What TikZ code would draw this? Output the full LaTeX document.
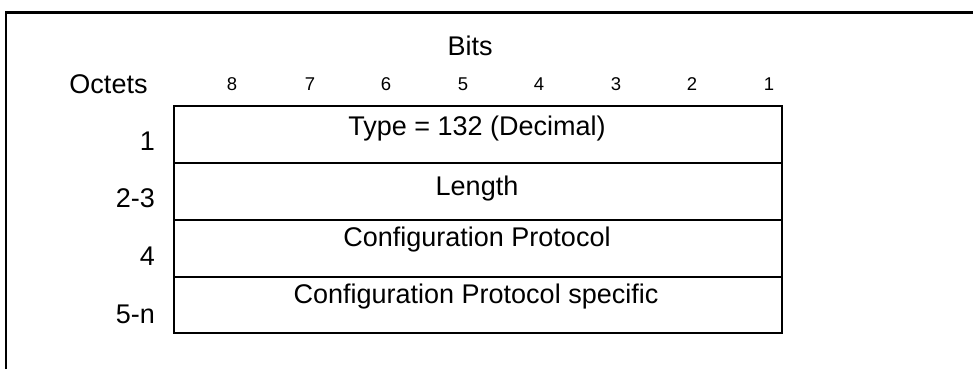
\documentclass[tikz,border=0pt]{standalone}
\usepackage{fontspec}
\setmainfont{Liberation Sans}
\begin{document}
\begin{tikzpicture}[x=1pt,y=-1pt,
  big/.style={inner sep=0pt,font=\fontsize{27}{30}\selectfont},
  small/.style={inner sep=0pt,font=\fontsize{18.5}{22}\selectfont,anchor=base},
  frame/.style={line width=2.2pt},
  field/.style={line width=1.6pt}]
\useasboundingbox (0,0) rectangle (973,369);
% outer frame (top and left edges)
\draw[frame] (6,369) -- (6,12.5) -- (973,12.5);
% field box
\draw[field] (174,106) rectangle (782,333);
\draw[field] (174,163) -- (782,163);
\draw[field] (174,220) -- (782,220);
\draw[field] (174,277) -- (782,277);
% headers
\node[big,anchor=base] (bits) at (470,56) {Bits};
\node[big,anchor=base] (octets) at (108.5,93) {Octets};
\foreach \b/\x in {8/232,7/310,6/386,5/463,4/539,3/616,2/692,1/769}
  \node[small] (b\b) at (\x,90) {\b};
% octet labels
\node[big,anchor=base east] (o1) at (155,150) {1};
\node[big,anchor=base east] (o2) at (155,207) {2-3};
\node[big,anchor=base east] (o4) at (155,265) {4};
\node[big,anchor=base east] (o5) at (155,323) {5-n};
% field texts
\node[big,anchor=base] (f1) at (477,135) {Type = 132 (Decimal)};
\node[big,anchor=base] (f2) at (477,195) {Length};
\node[big,anchor=base] (f3) at (477,246.5) {Configuration Protocol};
\node[big,anchor=base] (f4) at (476,303) {Configuration Protocol specific};
\end{tikzpicture}
\end{document}
